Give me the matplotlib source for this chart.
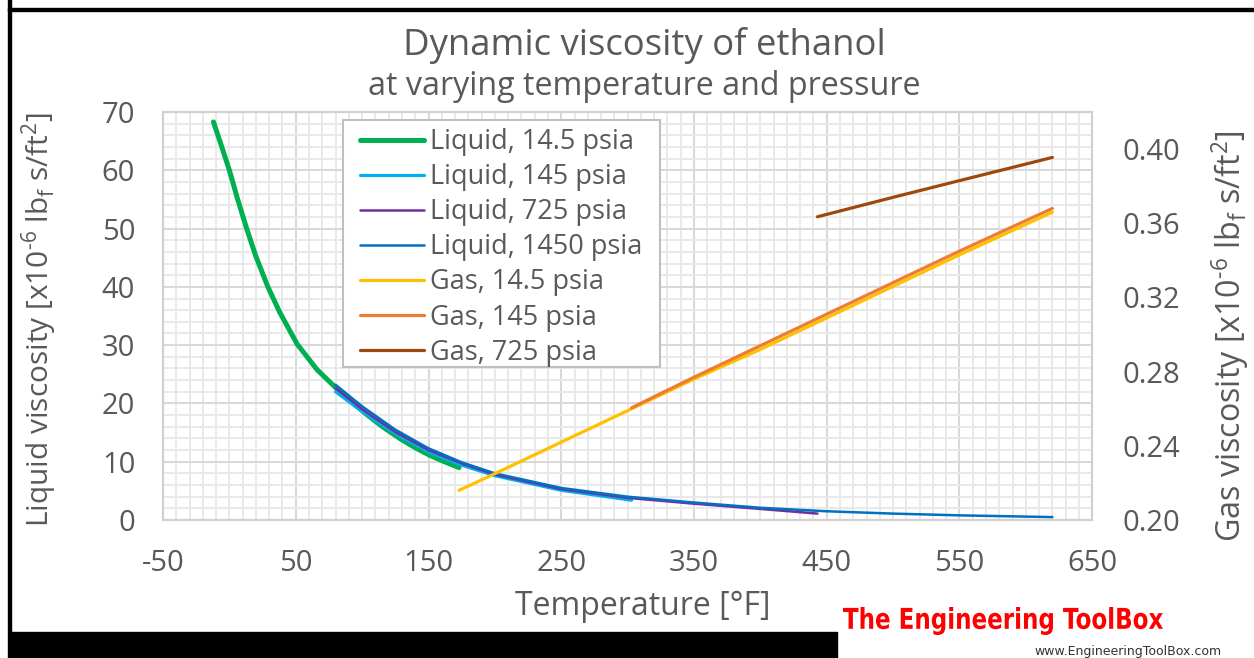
import matplotlib
matplotlib.use("Agg")
import matplotlib.pyplot as plt
from matplotlib.patches import Rectangle, PathPatch
from matplotlib.textpath import TextPath
from matplotlib.font_manager import FontProperties
from matplotlib.transforms import Affine2D, IdentityTransform
from matplotlib.ticker import MultipleLocator

plt.rcParams['font.family'] = ['Open Sans', 'DejaVu Sans']
plt.rcParams['mathtext.fontset'] = 'custom'
plt.rcParams['mathtext.rm'] = 'Open Sans'
plt.rcParams['axes.unicode_minus'] = False

# Liquid viscosity [x10^-6 lbf s/ft2] (left axis)
t_liq_14 = [-12, -6, 0, 6, 13, 20, 29, 38, 51, 66, 81, 92, 104, 116, 129, 140, 151, 162, 173]
mu_liq_14 = [68.3, 64.2, 60.0, 55.2, 50.0, 45.2, 40.0, 35.6, 30.2, 25.8, 22.5, 20.3, 18.0, 15.9, 13.9, 12.4, 11.1, 10.0, 9.0]

t_liq_145 = [80, 100, 125, 150, 175, 200, 250, 303]
mu_liq_145 = [22.0, 18.6, 14.8, 11.7, 9.4, 7.6, 5.1, 3.4]

t_liq_725 = [80, 100, 125, 150, 175, 200, 250, 300, 350, 400, 443]
mu_liq_725 = [22.6, 19.0, 15.1, 12.0, 9.7, 7.8, 5.3, 3.8, 2.8, 1.9, 1.1]

t_liq_1450 = [80, 100, 125, 150, 175, 200, 250, 300, 350, 400, 450, 500, 550, 620]
mu_liq_1450 = [23.2, 19.5, 15.5, 12.3, 9.9, 8.0, 5.5, 4.0, 3.0, 2.1, 1.5, 1.1, 0.8, 0.5]

# Gas viscosity [x10^-6 lbf s/ft2] (right axis)
t_gas_14 = [173, 200, 250, 303, 350, 400, 450, 500, 550, 620]
mu_gas_14 = [0.216, 0.225, 0.242, 0.260, 0.276, 0.292, 0.309, 0.326, 0.343, 0.366]

t_gas_145 = [303, 350, 400, 450, 500, 550, 620]
mu_gas_145 = [0.2605, 0.277, 0.294, 0.311, 0.328, 0.345, 0.368]

t_gas_725 = [443, 500, 550, 620]
mu_gas_725 = [0.3635, 0.374, 0.383, 0.3955]

x_ticks = [-50, 50, 150, 250, 350, 450, 550, 650]
gas_ticks = [0.20, 0.24, 0.28, 0.32, 0.36, 0.40]

grey = '#595959'

fig = plt.figure(figsize=(12.54, 6.58), dpi=100)
ax = fig.add_axes([0.130, 0.2097, 0.741, 0.6201])
ax2 = ax.twinx()

l1, = ax.plot(t_liq_14, mu_liq_14, color='#00B050', lw=3.6, solid_capstyle='round', label='Liquid, 14.5 psia')
l2, = ax.plot(t_liq_145, mu_liq_145, color='#00B0F0', lw=2.3, solid_capstyle='round', label='Liquid, 145 psia')
l3, = ax.plot(t_liq_725, mu_liq_725, color='#7030A0', lw=1.8, solid_capstyle='round', label='Liquid, 725 psia')
l4, = ax.plot(t_liq_1450, mu_liq_1450, color='#0070C0', lw=1.8, solid_capstyle='round', label='Liquid, 1450 psia')
g1, = ax2.plot(t_gas_14, mu_gas_14, color='#FFC000', lw=2.3, solid_capstyle='round', label='Gas, 14.5 psia')
g2, = ax2.plot(t_gas_145, mu_gas_145, color='#ED7D31', lw=2.3, solid_capstyle='round', label='Gas, 145 psia')
g3, = ax2.plot(t_gas_725, mu_gas_725, color='#9E480E', lw=2.3, solid_capstyle='round', label='Gas, 725 psia')

ax.set_xlim(-50, 650)
ax.set_ylim(0, 70)
ax2.set_ylim(0.20, 0.42)
ax.set_xticks(x_ticks)
ax.xaxis.set_minor_locator(MultipleLocator(10))
ax.yaxis.set_major_locator(MultipleLocator(10))
ax.yaxis.set_minor_locator(MultipleLocator(2))
ax2.set_yticks(gas_ticks)
ax2.set_yticklabels(['%.2f' % v for v in gas_ticks])

ax.grid(which='major', color='#D9D9D9', lw=1.5)
ax.grid(which='minor', color='#E9E9E9', lw=1.4)
ax.set_axisbelow(True)
for a in (ax, ax2):
    for s in a.spines.values():
        s.set_color('#D0D0D0')
        s.set_linewidth(1.5)
    a.tick_params(which='both', length=0, labelsize=21, labelcolor=grey)
ax.tick_params(axis='x', pad=21)
ax.tick_params(axis='y', pad=20)
ax2.tick_params(axis='y', pad=22)

ylab = r'viscosity [x10$^{\text{-6}}$ lb$_{\mathregular{f}}$ s/ft$^{\mathregular{2}}$]'
ax.set_xlabel('Temperature [°F]', fontsize=23, color=grey)
ax.xaxis.set_label_coords(0.516, -0.213)
ax.xaxis.label.set_va('center')
ax.set_ylabel('Liquid ' + ylab, fontsize=21.5, color=grey)
ax.yaxis.set_label_coords(-0.132, 0.49)
ax.yaxis.label.set_va('center')
ax2.set_ylabel('Gas ' + ylab, fontsize=23.2, color=grey)
ax2.yaxis.set_label_coords(1.1485, 0.451)
ax2.yaxis.label.set_va('center')

fig.text(0.5136, 1 - 55 / 658, 'Dynamic viscosity of ethanol', ha='center', va='baseline', fontsize=26.3, color=grey)
fig.text(0.5136, 1 - 95 / 658, 'at varying temperature and pressure', ha='center', va='baseline', fontsize=23.2, color=grey)

# legend box drawn separately so its padding matches
ax2.add_patch(Rectangle((0.1938, 0.375), 0.3412, 0.6054, transform=ax2.transAxes,
                        facecolor='white', edgecolor='#BFBFBF', lw=1.5, zorder=4.5))
leg = ax2.legend(handles=[l1, l2, l3, l4, g1, g2, g3], loc='upper left',
                 bbox_to_anchor=(0.212, 0.960), fontsize=19.5, labelcolor=grey,
                 frameon=False, handlelength=2.35, handletextpad=0.25,
                 labelspacing=0.26, borderpad=0, borderaxespad=0)
leg.set_zorder(5)

# frame and banner
fig.patches.append(Rectangle((8 / 1254, 1 - 11 / 658), 1, 3 / 658, transform=fig.transFigure, color='black'))
fig.patches.append(Rectangle((8 / 1254, 26 / 658), 3 / 1254, 1, transform=fig.transFigure, color='black'))
fig.patches.append(Rectangle((8 / 1254, 0), 829 / 1254, 26 / 658, transform=fig.transFigure, color='black'))

# condensed red logo text, squeezed into its box in pixels
tp = TextPath((0, 0), 'The Engineering ToolBox', size=30,
              prop=FontProperties(family='DejaVu Sans', weight='bold'))
ext = tp.get_extents()
x0, x1, y0, y1 = 843, 1163, 658 - 635, 658 - 607
tr = Affine2D().translate(-ext.x0, -ext.y0).scale((x1 - x0) / ext.width, (y1 - y0) / ext.height).translate(x0, y0)
fig.patches.append(PathPatch(tr.transform_path(tp), transform=IdentityTransform(),
                             facecolor='#FF0000', edgecolor='none'))
fig.text(1128 / 1254, 1 - 651 / 658, 'www.EngineeringToolBox.com', ha='center', va='center',
         fontsize=9, color='#333333', family=['DejaVu Sans'])

fig.savefig('out.png', dpi=100)
